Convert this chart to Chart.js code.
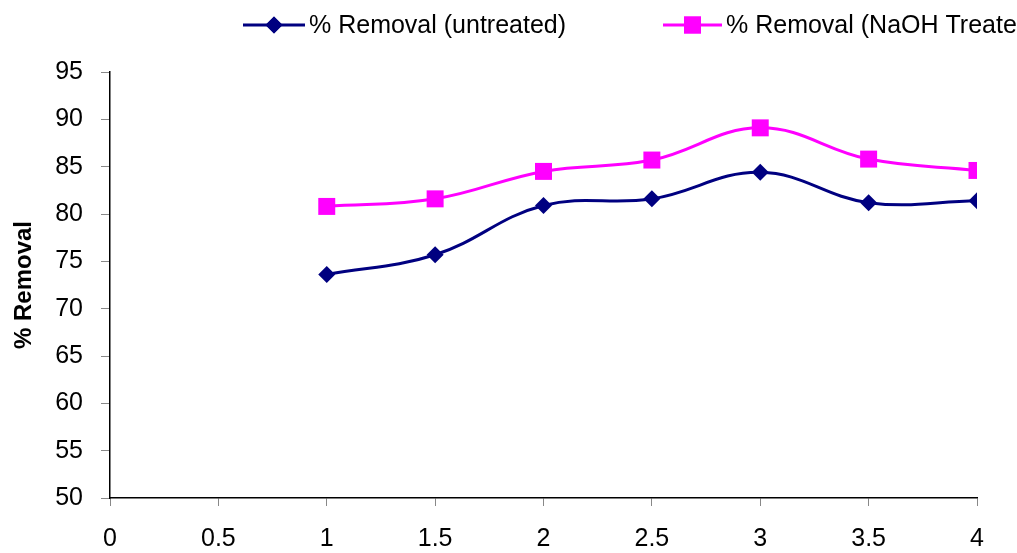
<!DOCTYPE html>
<html>
<head>
<meta charset="utf-8">
<script src="https://cdn.jsdelivr.net/npm/chart.js@4"></script>
<style>
  html, body { margin: 0; padding: 0; background: #fff; overflow: hidden; }
</style>
</head>
<body>
<canvas id="myChart" width="1017" height="553"></canvas>
<script>
// chart data
var xValues = [1, 1.5, 2, 2.5, 3, 3.5, 4];
var untreated = [73.6, 75.7, 80.9, 81.6, 84.4, 81.2, 81.4];
var naohTreated = [80.8, 81.6, 84.5, 85.7, 89.1, 85.8, 84.6];
var seriesNames = ["% Removal (untreated)", "% Removal (NaOH Treated)"];
var yTitle = "% Removal";
var fontFam = '"Liberation Sans", Arial, sans-serif';

function toPoints(ys){
    return xValues.map(function(x, i){ return {x: x, y: ys[i]}; });
}

// legend drawn by hand so the second entry runs off the right edge like the original
var topLegend = {
    id: 'topLegend',
    afterDraw: function(chart){
        var ctx = chart.ctx;
        var items = [
            {x0: 243, x1: 305, style: 'rectRot', r: 8.5, color: '#000080', text: seriesNames[0]},
            {x0: 663, x1: 722, style: 'rect', r: 12, color: '#FF00FF', text: seriesNames[1]}
        ];
        var y = 25;
        ctx.save();
        items.forEach(function(it){
            ctx.strokeStyle = it.color;
            ctx.lineWidth = 3;
            ctx.beginPath();
            ctx.moveTo(it.x0, y);
            ctx.lineTo(it.x1, y);
            ctx.stroke();
            ctx.fillStyle = it.color;
            Chart.helpers.drawPoint(ctx, {pointStyle: it.style, radius: it.r, borderWidth: 0}, (it.x0 + it.x1) / 2, y);
            ctx.fill();
            ctx.fillStyle = '#000';
            ctx.font = '25px ' + fontFam;
            ctx.textBaseline = 'middle';
            ctx.fillText(it.text, it.x1 + 4, y + 1);
        });
        ctx.restore();
    }
};

var ctx = document.getElementById('myChart').getContext('2d');
var chart = new Chart(ctx, {
    type: 'line',
    data: {
        datasets: [{
            label: seriesNames[0],
            data: toPoints(untreated),
            borderColor: '#000080',
            backgroundColor: '#000080',
            borderWidth: 3,
            pointStyle: 'rectRot',
            pointRadius: 8.5,
            pointHoverRadius: 8.5,
            pointBorderWidth: 0,
            tension: 0.4,
            fill: false
        }, {
            label: seriesNames[1],
            data: toPoints(naohTreated),
            borderColor: '#FF00FF',
            backgroundColor: '#FF00FF',
            borderWidth: 3,
            pointStyle: 'rect',
            pointRadius: 12,
            pointHoverRadius: 12,
            pointBorderWidth: 0,
            tension: 0.4,
            fill: false
        }]
    },
    options: {
        responsive: false,
        animation: false,
        layout: { padding: { top: 72, right: 40, left: 10, bottom: 0 } },
        plugins: {
            legend: { display: false },
            tooltip: { enabled: false }
        },
        scales: {
            x: {
                type: 'linear',
                min: 0,
                max: 4,
                ticks: {
                    stepSize: 0.5,
                    color: '#000',
                    padding: 18,
                    callback: function(v){ return String(v); },
                    font: { family: fontFam, size: 25 }
                },
                grid: { drawOnChartArea: false, tickColor: '#888', tickLength: 8, tickWidth: 1 },
                border: { color: '#000', width: 1.5 },
                afterFit: function(scale){ scale.height = 553 - 498; }
            },
            y: {
                min: 50,
                max: 95,
                ticks: {
                    stepSize: 5,
                    color: '#000',
                    padding: 18,
                    font: { family: fontFam, size: 25 }
                },
                title: {
                    display: true,
                    text: yTitle,
                    color: '#000',
                    padding: { top: 0, bottom: 10 },
                    font: { family: fontFam, size: 24, weight: 'bold' }
                },
                grid: { drawOnChartArea: false, tickColor: '#888', tickLength: 9, tickWidth: 1 },
                border: { color: '#000', width: 1.5 },
                afterFit: function(scale){ scale.width = 100; }
            }
        }
    },
    plugins: [topLegend]
});
</script>
</body>
</html>
